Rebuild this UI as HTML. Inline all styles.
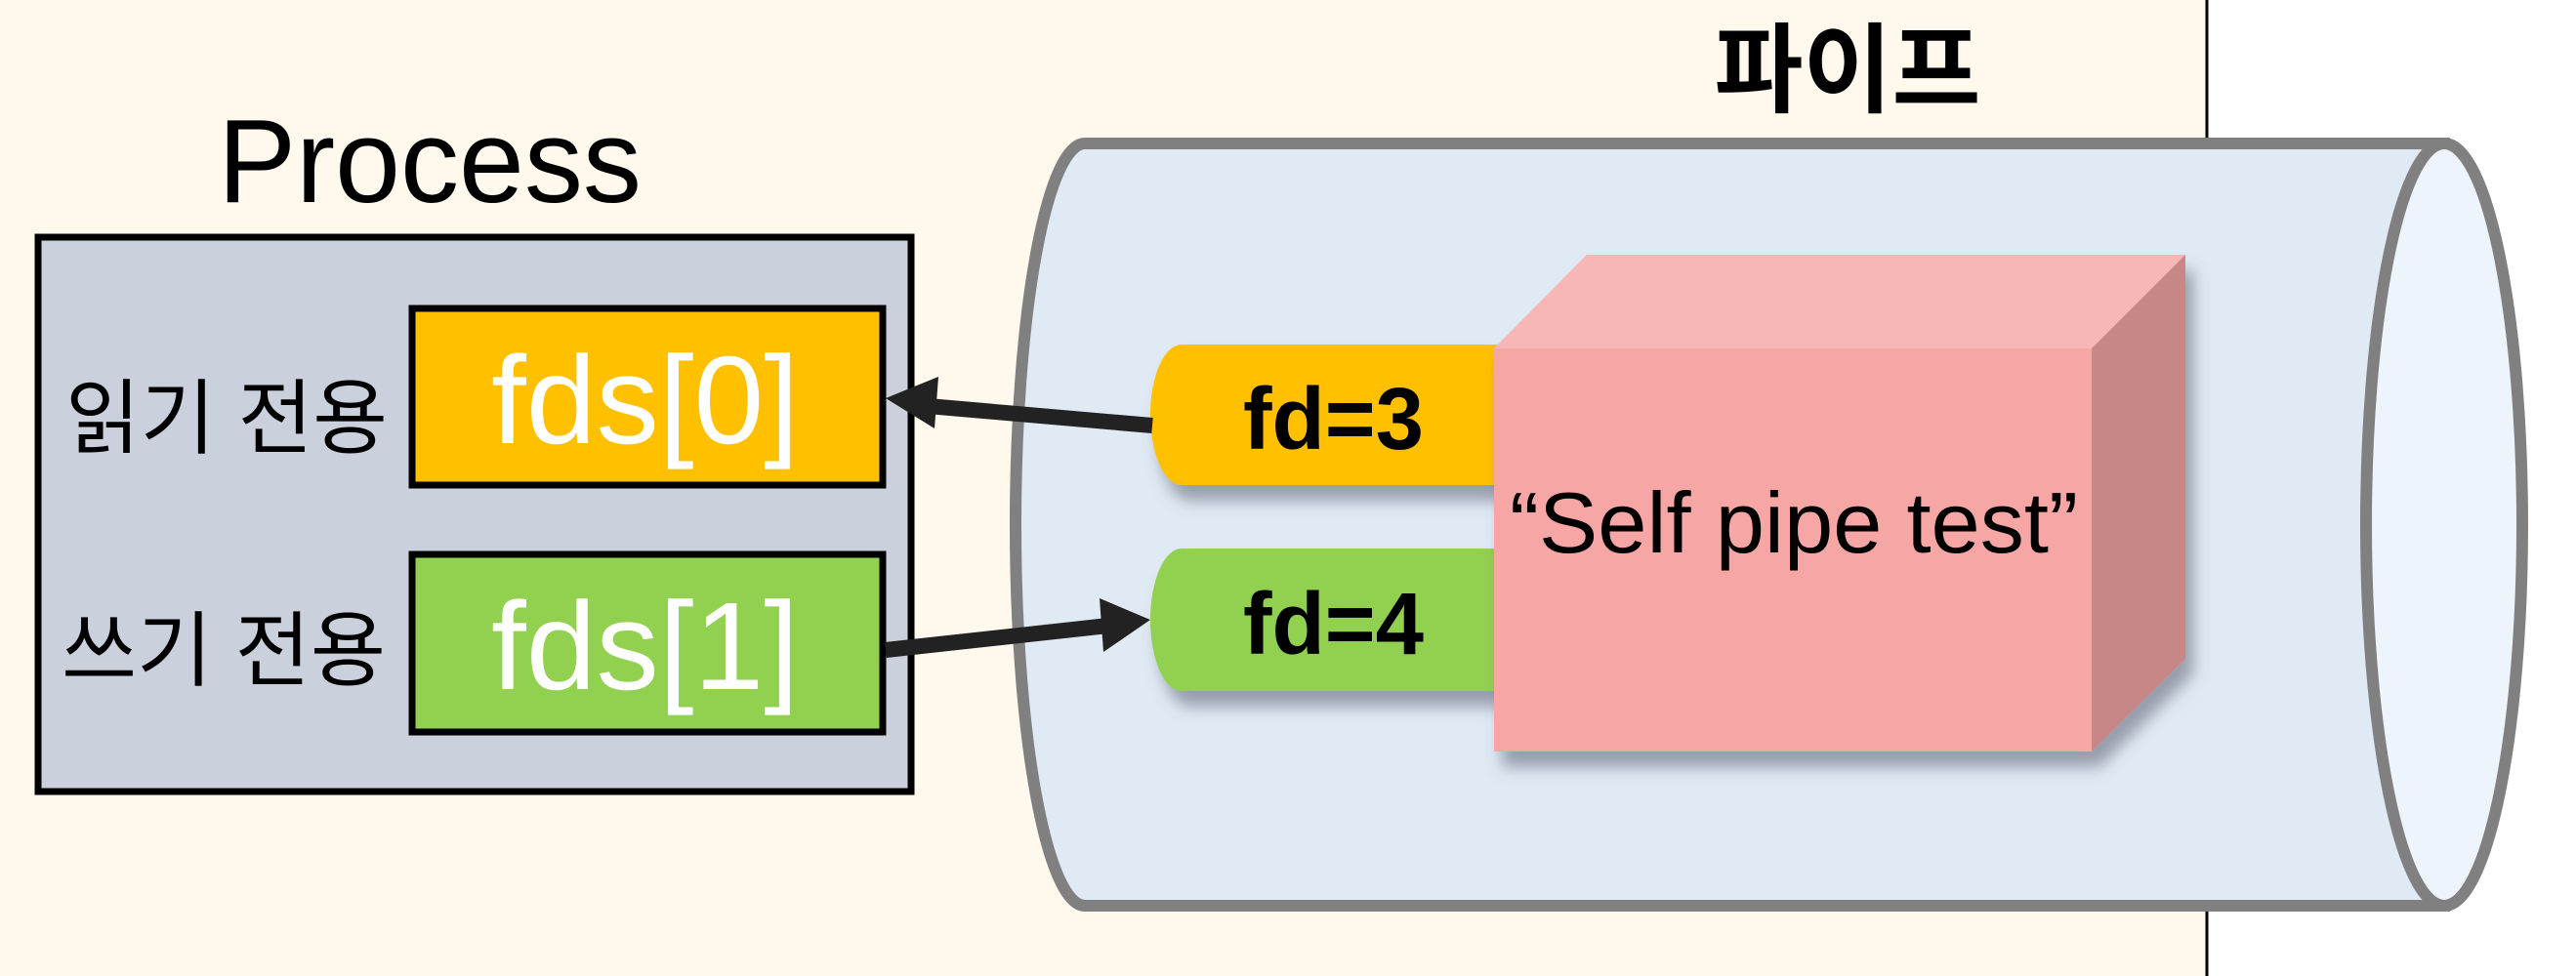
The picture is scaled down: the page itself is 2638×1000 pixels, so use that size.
<!DOCTYPE html>
<html><head><meta charset="utf-8"><style>
html,body{margin:0;padding:0;background:#fff}
svg{display:block}
</style></head><body>
<svg width="2638" height="1000" viewBox="0 0 2638 1000" xmlns="http://www.w3.org/2000/svg">
<defs>
<filter id="sh" x="-20%" y="-20%" width="150%" height="150%">
<feDropShadow dx="8" dy="16" stdDeviation="8" flood-color="#5a6070" flood-opacity="0.55"/>
</filter>
</defs>
<rect x="0" y="0" width="2260" height="1000" fill="#FFF8EC"/>
<rect x="2260" y="0" width="378" height="1000" fill="#FFFFFF"/>
<line x1="2260" y1="0" x2="2260" y2="1000" stroke="#000" stroke-width="3"/>

<!-- pipe -->
<path d="M2503,147 L1111,147 A71,390.5 0 0 0 1111,928 L2503,928 Z" fill="#E0EAF4" stroke="#808080" stroke-width="12"/>
<ellipse cx="2503" cy="537.5" rx="80" ry="390.5" fill="#EEF4FB" stroke="#808080" stroke-width="12"/>

<text x="1892" y="107" font-family="'Liberation Sans','Noto Sans CJK KR',sans-serif" font-size="100" font-weight="bold" text-anchor="middle" textLength="273" lengthAdjust="spacingAndGlyphs">파이프</text>

<!-- pills -->
<g filter="url(#sh)">
<path d="M1560,353 L1210,353 A32,72 0 0 0 1210,497 L1560,497 Z" fill="#FFC000"/>
<path d="M1560,562 L1210,562 A32,73 0 0 0 1210,708 L1560,708 Z" fill="#92D050"/>
</g>
<text x="1273" y="460" font-family="'Liberation Sans',sans-serif" font-size="90" font-weight="bold" textLength="185" lengthAdjust="spacingAndGlyphs">fd=3</text>
<text x="1273" y="670" font-family="'Liberation Sans',sans-serif" font-size="90" font-weight="bold" textLength="185" lengthAdjust="spacingAndGlyphs">fd=4</text>

<!-- box -->
<g filter="url(#sh)">
<polygon points="1530,357 1625,261 2238,261 2238,675 2142,770 1530,770" fill="#F7A6A6"/>
</g>
<polygon points="1530,357 1625,261 2238,261 2142,357" fill="#F8B7B7"/>
<polygon points="2142,357 2238,261 2238,675 2142,770" fill="#C88787"/>
<rect x="1530" y="357" width="612" height="413" fill="#F7A6A6"/>
<text x="1546" y="566" font-family="'Liberation Sans',sans-serif" font-size="88" textLength="582" lengthAdjust="spacingAndGlyphs">“Self pipe test”</text>

<!-- process -->
<text x="223" y="207" font-family="'Liberation Sans',sans-serif" font-size="122" textLength="434" lengthAdjust="spacingAndGlyphs">Process</text>
<rect x="39" y="243" width="894" height="568" fill="#CAD1DD" stroke="#000" stroke-width="7"/>
<rect x="422" y="316" width="482" height="181" fill="#FFC000" stroke="#000" stroke-width="7"/>
<rect x="422" y="568" width="482" height="182" fill="#92D050" stroke="#000" stroke-width="7"/>
<text x="503" y="454" font-family="'Liberation Sans',sans-serif" font-size="128" fill="#fff" textLength="315" lengthAdjust="spacingAndGlyphs">fds[0]</text>
<text x="503" y="706" font-family="'Liberation Sans',sans-serif" font-size="128" fill="#fff" textLength="315" lengthAdjust="spacingAndGlyphs">fds[1]</text>
<text x="67" y="458" font-family="'Liberation Sans','Noto Sans CJK KR',sans-serif" font-size="84" textLength="330" lengthAdjust="spacingAndGlyphs">읽기 전용</text>
<text x="63" y="696" font-family="'Liberation Sans','Noto Sans CJK KR',sans-serif" font-size="84" textLength="332" lengthAdjust="spacingAndGlyphs">쓰기 전용</text>

<!-- arrows -->
<line x1="1180" y1="436" x2="950" y2="416" stroke="#222" stroke-width="16"/>
<polygon points="907,408 961,386 957,439" fill="#222"/>
<line x1="907" y1="666" x2="1135" y2="641" stroke="#222" stroke-width="16"/>
<polygon points="1178,635 1126,613 1130,668" fill="#222"/>
</svg>
</body></html>
